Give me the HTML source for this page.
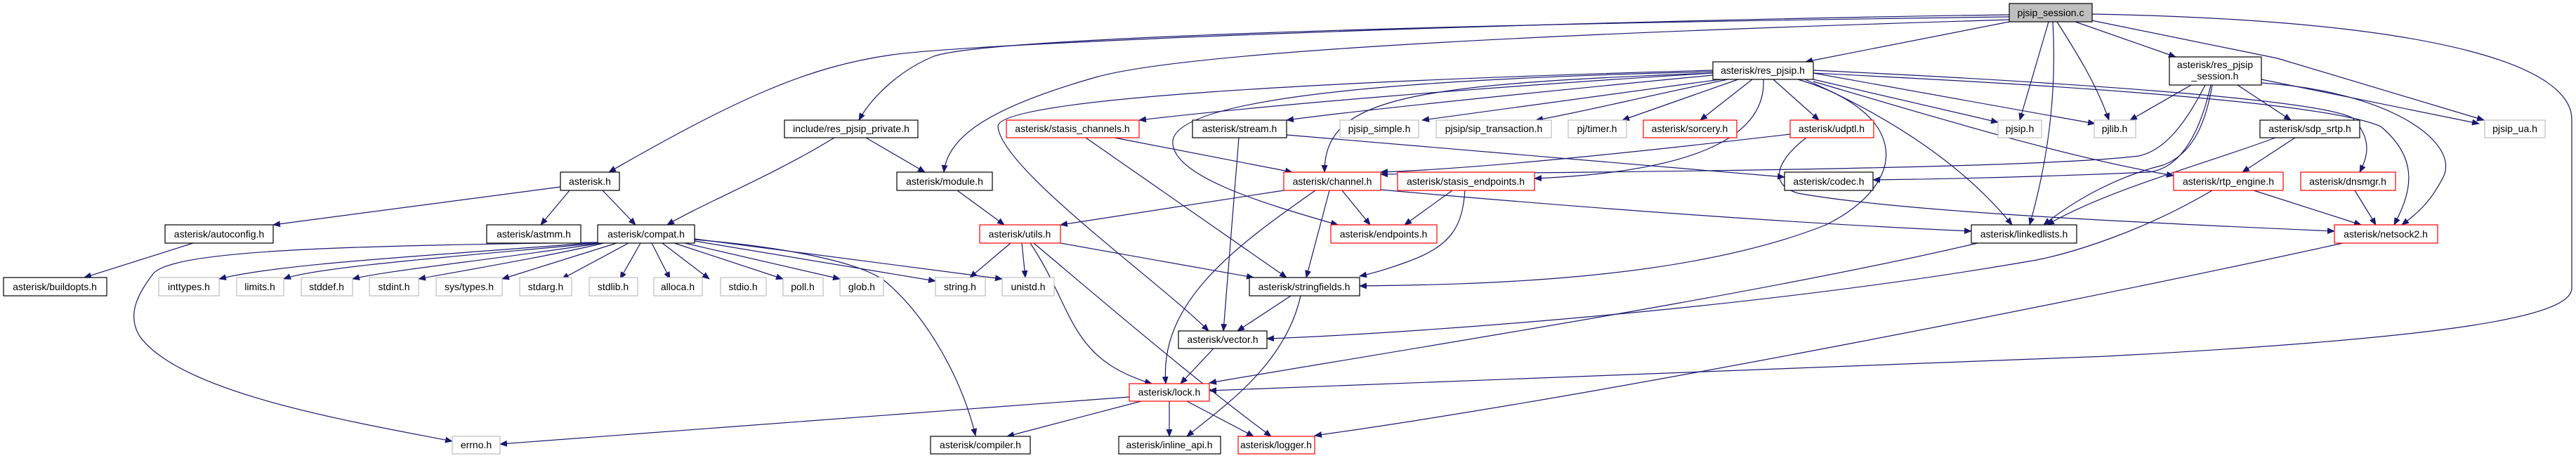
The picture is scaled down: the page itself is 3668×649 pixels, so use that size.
<!DOCTYPE html>
<html><head><meta charset="utf-8"><style>
html,body{margin:0;padding:0;background:#fff;}
svg{display:block;}
text{font-family:"Liberation Sans",sans-serif;font-size:14px;fill:#000;text-anchor:middle;}
.e{fill:none;stroke:#191970;stroke-width:1.2;marker-end:url(#a);}
.b{fill:#fff;stroke:#000;stroke-width:1.2;}
.r{fill:#fff;stroke:#ff0000;stroke-width:1.2;}
.g{fill:#fff;stroke:#bfbfbf;stroke-width:1.2;}
</style></head><body>
<svg width="3668" height="649" viewBox="0 0 3668 649" xmlns="http://www.w3.org/2000/svg">
<defs><marker id="a" markerUnits="userSpaceOnUse" markerWidth="11" markerHeight="9" refX="10" refY="4.5" orient="auto"><path d="M0,0 L11,4.5 L0,9 z" fill="#191970"/></marker></defs>
<g>
<!-- pjsip_session.c edges -->
<path class="e" d="M2861,21 C2200,30 1400,60 1270,78 C1150,95 1050,140 867,245"/>
<path class="e" d="M2861,24 C2000,35 1400,55 1330,80 C1280,100 1240,140 1223,171"/>
<path class="e" d="M2862,28 C2300,45 1700,70 1560,110 C1420,150 1350,190 1344,245"/>
<path class="e" d="M2861,31 L2571,88"/>
<path class="e" d="M2917,31 L2876,171"/>
<path class="e" d="M2923,31 C2930,150 2910,250 2890,320"/>
<path class="e" d="M2929,31 C2960,80 2985,120 3003,171"/>
<path class="e" d="M2955,31 L3098,81"/>
<path class="e" d="M2978,29 L3243,83 L3537,171"/>
<path class="e" d="M2979,20 C3500,30 3662,100 3662,170 L3662,410 C3662,450 3500,480 3000,507 L1722,556"/>
<!-- res_pjsip.h edges -->
<path class="e" d="M2439,104 C2100,125 1800,150 1622,171"/>
<path class="e" d="M2439,107 C2200,130 1950,155 1832,171"/>
<path class="e" d="M2450,113 C2250,140 2100,160 2025,171"/>
<path class="e" d="M2460,113 C2330,140 2250,160 2187,171"/>
<path class="e" d="M2475,113 L2310,171"/>
<path class="e" d="M2495,113 L2421,171"/>
<path class="e" d="M2525,113 L2590,171"/>
<path class="e" d="M2511,113 C2515,200 2400,245 2185,254"/>
<path class="e" d="M2439,104 C2000,120 1886,140 1886,245"/>
<path class="e" d="M2439,102 C2100,110 1680,130 1670,200 C1665,250 1800,290 1905,320"/>
<path class="e" d="M2439,100 C1900,115 1420,140 1421,180 C1425,240 1650,400 1721,471"/>
<path class="e" d="M2560,113 C2720,160 2720,260 2600,320 C2400,400 2100,405 1936,407"/>
<path class="e" d="M2570,113 C2700,170 2800,240 2865,320"/>
<path class="e" d="M2582,113 L2845,174"/>
<path class="e" d="M2582,104 L2983,176"/>
<path class="e" d="M2582,116 C2800,180 2950,225 3095,250"/>
<path class="e" d="M2582,104 C2800,115 3300,140 3390,180 C3450,230 3430,280 3409,320"/>
<path class="e" d="M2582,100 C2900,115 3300,140 3350,168 C3380,200 3370,225 3360,245"/>
<!-- others -->
<path class="e" d="M1832,192 L2541,252"/>
<path class="e" d="M2549,191 C2300,220 2100,240 1966,245"/>
<path class="e" d="M2572,196 C2540,220 2510,260 2560,275 C2700,300 3000,315 3324,329"/>
<path class="e" d="M1966,270 C2300,300 2600,320 2807,329"/>
<path class="e" d="M2068,271 L2000,320"/>
<path class="e" d="M2086,271 C2082,320 2070,350 2000,374 C1970,385 1950,390 1936,393"/>
<path class="e" d="M1587,196 L1840,245"/>
<path class="e" d="M1546,196 L1832,395"/>
<path class="e" d="M1828,271 L1510,320"/>
<path class="e" d="M1911,271 L1951,320"/>
<path class="e" d="M1893,271 L1860,395"/>
<path class="e" d="M1873,271 C1760,350 1650,430 1660,546"/>
<path class="e" d="M1764,196 L1742,471"/>
<path class="e" d="M1363,271 L1430,320"/>
<path class="e" d="M1439,346 L1381,395"/>
<path class="e" d="M1455,346 L1460,395"/>
<path class="e" d="M1510,346 L1785,395"/>
<path class="e" d="M1467,346 C1530,440 1520,510 1640,546"/>
<path class="e" d="M1472,346 C1560,420 1700,540 1810,621"/>
<path class="e" d="M1838,421 L1762,471"/>
<path class="e" d="M1852,421 C1830,520 1740,580 1690,621"/>
<path class="e" d="M1728,496 L1681,546"/>
<path class="e" d="M1608,565 L712,632"/>
<path class="e" d="M1625,571 L1434,621"/>
<path class="e" d="M1665,571 L1665,621"/>
<path class="e" d="M1690,571 L1785,621"/>
<path class="e" d="M2816,346 C2500,420 2000,497 1722,545"/>
<path class="e" d="M3150,271 C3050,330 2950,360 2900,370 C2500,440 2000,475 1804,482"/>
<path class="e" d="M3209,271 L3362,320"/>
<path class="e" d="M3336,346 C3000,420 2300,560 1872,620"/>
<path class="e" d="M3353,271 L3383,320"/>
<path class="e" d="M3120,121 L3033,171"/>
<path class="e" d="M3140,121 C3110,180 3080,215 3045,222 C2900,240 2300,245 1966,248"/>
<path class="e" d="M3148,121 C3130,200 3100,240 3060,245 C2900,252 2750,255 2667,256"/>
<path class="e" d="M3150,121 C3140,180 3120,220 3080,235 C3020,250 2960,280 2910,320"/>
<path class="e" d="M3240,196 C3150,230 3000,270 2915,320"/>
<path class="e" d="M3186,121 L3262,171"/>
<path class="e" d="M3220,113 L3530,176"/>
<path class="e" d="M3220,118 C3400,130 3500,200 3480,250 C3460,290 3440,305 3420,320"/>
<path class="e" d="M3268,196 L3193,245"/>
<!-- asterisk.h / compat -->
<path class="e" d="M798,266 L389,320"/>
<path class="e" d="M811,271 L770,320"/>
<path class="e" d="M858,271 L905,320"/>
<path class="e" d="M275,346 L120,395"/>
<path class="e" d="M1188,196 C1100,250 1000,290 950,320"/>
<path class="e" d="M1233,196 L1317,245"/>
<path class="e" d="M851,345 C500,350 240,355 217,391 C195,420 180,450 200,480 C260,560 500,600 644,628"/>
<path class="e" d="M851,345 C600,365 400,375 312,397"/>
<path class="e" d="M853,346 C650,365 450,380 404,397"/>
<path class="e" d="M856,346 C700,370 550,385 502,397"/>
<path class="e" d="M860,346 C780,365 660,385 596,397"/>
<path class="e" d="M878,346 L715,397"/>
<path class="e" d="M895,346 L800,397"/>
<path class="e" d="M912,346 L883,397"/>
<path class="e" d="M928,346 L954,397"/>
<path class="e" d="M943,346 L1010,397"/>
<path class="e" d="M960,346 L1115,397"/>
<path class="e" d="M975,346 L1196,397"/>
<path class="e" d="M989,343 L1332,400"/>
<path class="e" d="M989,340 L1427,397"/>
<path class="e" d="M989,341 C1100,350 1220,370 1260,400 C1320,450 1370,540 1389,620"/>
</g>
<!-- nodes -->
<rect x="2861" y="5" width="118" height="26" fill="#bfbfbf" stroke="#000" stroke-width="1.2"/><text x="2920" y="23">pjsip_session.c</text>
<rect class="b" x="2439" y="88" width="143" height="25"/><text x="2510" y="105">asterisk/res_pjsip.h</text>
<rect class="b" x="3089" y="81" width="131" height="40"/><text x="3154" y="97">asterisk/res_pjsip</text><text x="3154" y="113">_session.h</text>
<rect class="b" x="798" y="245" width="84" height="26"/><text x="840" y="263">asterisk.h</text>
<rect class="b" x="1117" y="171" width="190" height="25"/><text x="1212" y="188">include/res_pjsip_private.h</text>
<rect class="r" x="1433" y="171" width="189" height="25"/><text x="1527" y="188">asterisk/stasis_channels.h</text>
<rect class="b" x="1698" y="171" width="134" height="25"/><text x="1765" y="188">asterisk/stream.h</text>
<rect class="g" x="1908" y="171" width="112" height="25"/><text x="1964" y="188">pjsip_simple.h</text>
<rect class="g" x="2045" y="171" width="164" height="25"/><text x="2127" y="188">pjsip/sip_transaction.h</text>
<rect class="g" x="2233" y="171" width="83" height="25"/><text x="2274" y="188">pj/timer.h</text>
<rect class="r" x="2340" y="171" width="133" height="25"/><text x="2406" y="188">asterisk/sorcery.h</text>
<rect class="r" x="2549" y="171" width="119" height="25"/><text x="2608" y="188">asterisk/udptl.h</text>
<rect class="g" x="2845" y="171" width="62" height="25"/><text x="2876" y="188">pjsip.h</text>
<rect class="g" x="2982" y="171" width="59" height="25"/><text x="3011" y="188">pjlib.h</text>
<rect class="b" x="3218" y="171" width="142" height="25"/><text x="3289" y="188">asterisk/sdp_srtp.h</text>
<rect class="g" x="3538" y="171" width="86" height="25"/><text x="3581" y="188">pjsip_ua.h</text>
<rect class="b" x="1277" y="245" width="136" height="26"/><text x="1345" y="263">asterisk/module.h</text>
<rect class="r" x="1828" y="245" width="138" height="26"/><text x="1897" y="263">asterisk/channel.h</text>
<rect class="r" x="1990" y="245" width="195" height="26"/><text x="2087" y="263">asterisk/stasis_endpoints.h</text>
<rect class="b" x="2541" y="245" width="126" height="26"/><text x="2604" y="263">asterisk/codec.h</text>
<rect class="r" x="3095" y="245" width="156" height="26"/><text x="3173" y="263">asterisk/rtp_engine.h</text>
<rect class="r" x="3276" y="245" width="135" height="26"/><text x="3343" y="263">asterisk/dnsmgr.h</text>
<rect class="b" x="235" y="320" width="154" height="26"/><text x="312" y="338">asterisk/autoconfig.h</text>
<rect class="b" x="693" y="320" width="134" height="26"/><text x="760" y="338">asterisk/astmm.h</text>
<rect class="b" x="851" y="320" width="138" height="26"/><text x="920" y="338">asterisk/compat.h</text>
<rect class="r" x="1395" y="320" width="115" height="26"/><text x="1452" y="338">asterisk/utils.h</text>
<rect class="r" x="1895" y="320" width="151" height="26"/><text x="1970" y="338">asterisk/endpoints.h</text>
<rect class="b" x="2807" y="320" width="150" height="26"/><text x="2882" y="338">asterisk/linkedlists.h</text>
<rect class="r" x="3324" y="320" width="147" height="26"/><text x="3397" y="338">asterisk/netsock2.h</text>
<rect class="b" x="5" y="395" width="147" height="26"/><text x="78" y="413">asterisk/buildopts.h</text>
<rect class="g" x="226" y="395" width="86" height="26"/><text x="269" y="413">inttypes.h</text>
<rect class="g" x="337" y="395" width="67" height="26"/><text x="370" y="413">limits.h</text>
<rect class="g" x="429" y="395" width="73" height="26"/><text x="465" y="413">stddef.h</text>
<rect class="g" x="526" y="395" width="70" height="26"/><text x="561" y="413">stdint.h</text>
<rect class="g" x="621" y="395" width="94" height="26"/><text x="668" y="413">sys/types.h</text>
<rect class="g" x="740" y="395" width="74" height="26"/><text x="777" y="413">stdarg.h</text>
<rect class="g" x="839" y="395" width="69" height="26"/><text x="873" y="413">stdlib.h</text>
<rect class="g" x="931" y="395" width="69" height="26"/><text x="965" y="413">alloca.h</text>
<rect class="g" x="1026" y="395" width="65" height="26"/><text x="1058" y="413">stdio.h</text>
<rect class="g" x="1115" y="395" width="57" height="26"/><text x="1143" y="413">poll.h</text>
<rect class="g" x="1196" y="395" width="62" height="26"/><text x="1227" y="413">glob.h</text>
<rect class="g" x="1332" y="395" width="71" height="26"/><text x="1367" y="413">string.h</text>
<rect class="g" x="1427" y="395" width="74" height="26"/><text x="1464" y="413">unistd.h</text>
<rect class="b" x="1779" y="395" width="157" height="26"/><text x="1857" y="413">asterisk/stringfields.h</text>
<rect class="b" x="1678" y="471" width="126" height="25"/><text x="1741" y="488">asterisk/vector.h</text>
<rect class="r" x="1608" y="546" width="114" height="25"/><text x="1665" y="563">asterisk/lock.h</text>
<rect class="g" x="644" y="621" width="68" height="25"/><text x="678" y="638">errno.h</text>
<rect class="b" x="1325" y="621" width="142" height="25"/><text x="1396" y="638">asterisk/compiler.h</text>
<rect class="b" x="1593" y="621" width="145" height="25"/><text x="1665" y="638">asterisk/inline_api.h</text>
<rect class="r" x="1763" y="621" width="109" height="25"/><text x="1817" y="638">asterisk/logger.h</text>
</svg>
</body></html>
